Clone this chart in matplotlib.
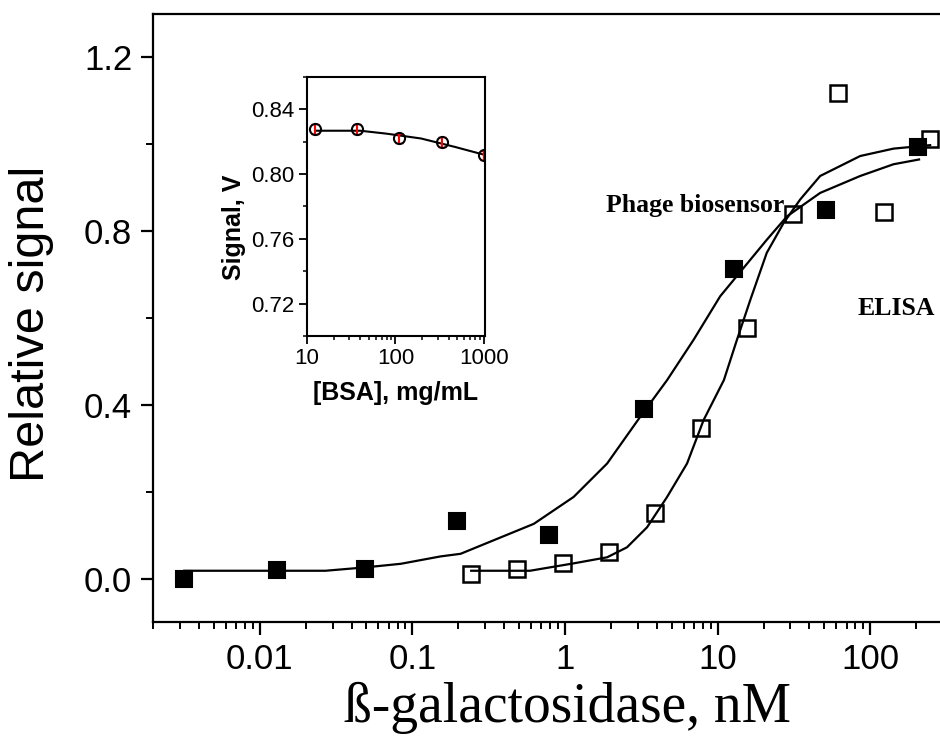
import numpy as np
import matplotlib.pyplot as plt
from matplotlib.ticker import FixedLocator, FuncFormatter, LogLocator, NullFormatter, MultipleLocator

# phage biosensor (filled squares)
phage_x = [0.0032, 0.013, 0.049, 0.197, 0.79, 3.28, 12.9, 51.3, 206]
phage_y = [0.0, 0.02, 0.021, 0.132, 0.10, 0.39, 0.713, 0.848, 0.993]
phage_fit_x = [0.0032, 0.013, 0.027, 0.05, 0.084, 0.153, 0.207, 0.625, 1.14, 1.89,
               3.12, 4.67, 6.97, 10.4, 21, 28.5, 47, 86, 142, 209]
phage_fit_y = [0.018, 0.018, 0.018, 0.026, 0.034, 0.051, 0.057, 0.126, 0.188, 0.265,
               0.373, 0.457, 0.55, 0.65, 0.78, 0.834, 0.888, 0.927, 0.954, 0.965]

# ELISA (open squares)
elisa_x = [0.243, 0.486, 0.97, 1.95, 3.92, 7.83, 15.6, 31, 61.7, 122.7, 247]
elisa_y = [0.011, 0.021, 0.035, 0.061, 0.151, 0.347, 0.577, 0.84, 1.119, 0.844, 1.012]
elisa_fit_x = [0.243, 0.59, 1.14, 1.89, 2.55, 3.45, 4.67, 6.31, 8.1, 11.0, 13.4, 16.4,
               21, 27.1, 34.8, 47, 86, 142, 247]
elisa_fit_y = [0.018, 0.018, 0.035, 0.049, 0.072, 0.118, 0.188, 0.265, 0.365, 0.457,
               0.55, 0.642, 0.75, 0.819, 0.873, 0.927, 0.973, 0.99, 0.998]

# BSA control (inset)
bsa_x = [12.3, 37, 111, 333, 1000]
bsa_y = [0.828, 0.828, 0.822, 0.820, 0.8115]
bsa_err = [0.003, 0.003, 0.003, 0.003, 0.003]
bsa_fit_x = [12.3, 40, 79, 195, 470, 1000]
bsa_fit_y = [0.8268, 0.8268, 0.825, 0.822, 0.8168, 0.812]

x_ticks = [0.01, 0.1, 1, 10, 100]
x_ticklabels = ["0.01", "0.1", "1", "10", "100"]

sans = "Liberation Sans"
serif = "Liberation Serif"

fig = plt.figure(figsize=(9.4, 7.41), dpi=100)
ax = fig.add_axes([0.1628, 0.1606, 0.8404, 0.8205])

ax.plot(phage_fit_x, phage_fit_y, color="black", lw=1.6)
ax.plot(elisa_fit_x, elisa_fit_y, color="black", lw=1.6)
ax.plot(phage_x, phage_y, "s", ms=11, mfc="black", mec="black", mew=1.5)
ax.plot(elisa_x, elisa_y, "s", ms=11, mfc="none", mec="black", mew=1.8)

ax.set_xscale("log")
ax.set_xlim(0.002, 300)
ax.set_ylim(-0.1, 1.3)
ax.xaxis.set_major_locator(FixedLocator(x_ticks))
ax.xaxis.set_major_formatter(FuncFormatter(lambda v, p: x_ticklabels[x_ticks.index(v)] if v in x_ticks else ""))
ax.xaxis.set_minor_locator(LogLocator(base=10, subs=np.arange(2, 10), numticks=20))
ax.xaxis.set_minor_formatter(NullFormatter())
ax.yaxis.set_major_locator(FixedLocator([0.0, 0.4, 0.8, 1.2]))
ax.yaxis.set_major_formatter(FuncFormatter(lambda v, p: "%.1f" % v))
ax.yaxis.set_minor_locator(MultipleLocator(0.2))

for s in ax.spines.values():
    s.set_linewidth(1.6)
ax.tick_params(which="major", direction="out", length=9, width=1.6, labelsize=25, pad=6)
ax.tick_params(which="minor", direction="out", length=5, width=1.4)
for lab in ax.get_xticklabels() + ax.get_yticklabels():
    lab.set_fontfamily(sans)

ax.set_ylabel("Relative signal", fontsize=35, family=sans)
ax.yaxis.set_label_coords(-0.125, 0.49)
ax.set_xlabel("ß-galactosidase, nM", fontsize=40, family=serif, va="baseline")
ax.xaxis.set_label_coords(0.525, -0.164)

ax.text(27.4, 0.845, "Phage biosensor", fontsize=18.5, family=serif, fontweight="bold",
        ha="right", va="baseline")
ax.text(0.99, 0.505, "ELISA", fontsize=18.5, family=serif, fontweight="bold",
        ha="right", va="baseline", transform=ax.transAxes)

# inset: BSA does not change the signal
ins = fig.add_axes([0.3266, 0.5466, 0.1894, 0.3495])
ins.plot(bsa_fit_x, bsa_fit_y, color="black", lw=1.5)
ins.errorbar(bsa_x, bsa_y, yerr=bsa_err, fmt="none", ecolor="red", elinewidth=1.5, capsize=3)
ins.plot(bsa_x, bsa_y, "o", ms=8, mfc="none", mec="black", mew=1.5)
ins.set_xscale("log")
ins.set_xlim(10, 1030)
ins.set_ylim(0.70, 0.86)
ins.xaxis.set_major_locator(FixedLocator([10, 100, 1000]))
ins.xaxis.set_major_formatter(FuncFormatter(lambda v, p: "%d" % v))
ins.xaxis.set_minor_locator(LogLocator(base=10, subs=np.arange(2, 10), numticks=20))
ins.xaxis.set_minor_formatter(NullFormatter())
ins.yaxis.set_major_locator(FixedLocator([0.72, 0.76, 0.80, 0.84]))
ins.yaxis.set_major_formatter(FuncFormatter(lambda v, p: "%.2f" % v))
ins.yaxis.set_minor_locator(MultipleLocator(0.02))
for s in ins.spines.values():
    s.set_linewidth(1.5)
ins.tick_params(which="major", direction="out", length=6, width=1.3, labelsize=16, pad=3)
ins.tick_params(which="minor", direction="out", length=3, width=1.1)
for lab in ins.get_xticklabels() + ins.get_yticklabels():
    lab.set_fontfamily(sans)
ins.set_ylabel("Signal, V", fontsize=18, family=sans, fontweight="bold")
ins.yaxis.set_label_coords(-0.34, 0.42)
ins.set_xlabel("[BSA], mg/mL", fontsize=18, family=sans, fontweight="bold", labelpad=8)

fig.savefig("out.png", dpi=100)
